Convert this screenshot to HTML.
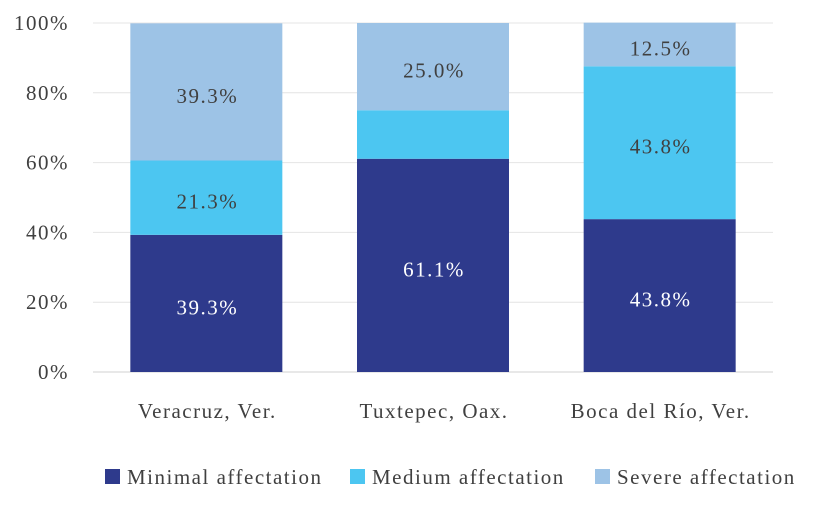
<!DOCTYPE html>
<html><head><meta charset="utf-8"><style>
body{margin:0;background:#fff;}
svg{display:block;font-family:"Liberation Serif",serif;}
text{letter-spacing:1.5px;}
</style></head><body>
<svg id="chart" width="814" height="519"></svg>
<script>
const categories=["Veracruz, Ver.","Tuxtepec, Oax.","Boca del Río, Ver."];
const minimal=[39.3,61.1,43.8];
const medium=[21.3,13.9,43.8];
const severe=[39.3,25.0,12.5];
const minimalLabels=["39.3%","61.1%","43.8%"];
const mediumLabels=["21.3%","","43.8%"];
const severeLabels=["39.3%","25.0%","12.5%"];
const yTicks=[0,20,40,60,80,100];
const NS="http://www.w3.org/2000/svg";
const svg=document.getElementById('chart');
const x0=93,x1=773,yB=372,yT=23;
const yS=v=>yB-(v/100)*(yB-yT);
const bandW=(x1-x0)/categories.length;
const xC=i=>x0+bandW*(i+0.5);
const barW=152;
function mk(t,a){const e=document.createElementNS(NS,t);for(const k in a)e.setAttribute(k,a[k]);svg.appendChild(e);return e;}
yTicks.forEach(t=>{
 const g=mk('line',{x1:x0,x2:x1,y1:yS(t),y2:yS(t),stroke:t===0?'#d0d0d0':'#e4e4e4','stroke-width':1});
 
 
 const l=mk('text',{x:69,y:yS(t)+7,'text-anchor':'end','font-size':21,fill:'#404040'});
 l.textContent=t+'%';
 
 
});
const series=[[minimal,'#2E3A8C',minimalLabels,'#ffffff','minimal'],[medium,'#4CC6F1',mediumLabels,'#404040','medium'],[severe,'#9DC3E6',severeLabels,'#404040','severe']];
categories.forEach((c,i)=>{
 let base=0;
 series.forEach(([vals,col,labs,tc,nm])=>{
  const v=vals[i];
  const r=mk('rect',{x:xC(i)-barW/2,y:yS(base+v),width:barW,height:yS(base)-yS(base+v),fill:col});
  
  
  if(labs[i]){
   const t=mk('text',{x:xC(i)+1,y:(yS(base)+yS(base+v))/2+11,'text-anchor':'middle','font-size':21,fill:tc});
   t.textContent=labs[i];
   
   
  }
  base+=v;
 });
 const cl=mk('text',{x:xC(i)+1,y:418,'text-anchor':'middle','font-size':21,fill:'#404040'});
 cl.textContent=c;
 
 
});
const leg=[['Minimal affectation','#2E3A8C',105],['Medium affectation','#4CC6F1',350],['Severe affectation','#9DC3E6',595]];
leg.forEach(([n,c,x])=>{
 const s=mk('rect',{x:x,y:469,width:15,height:15,fill:c});
 
 
 const t=mk('text',{x:x+22,y:484,'font-size':21,fill:'#404040','letter-spacing':'1.2px'});
 t.textContent=n;
 
 
});
</script>
</body></html>
